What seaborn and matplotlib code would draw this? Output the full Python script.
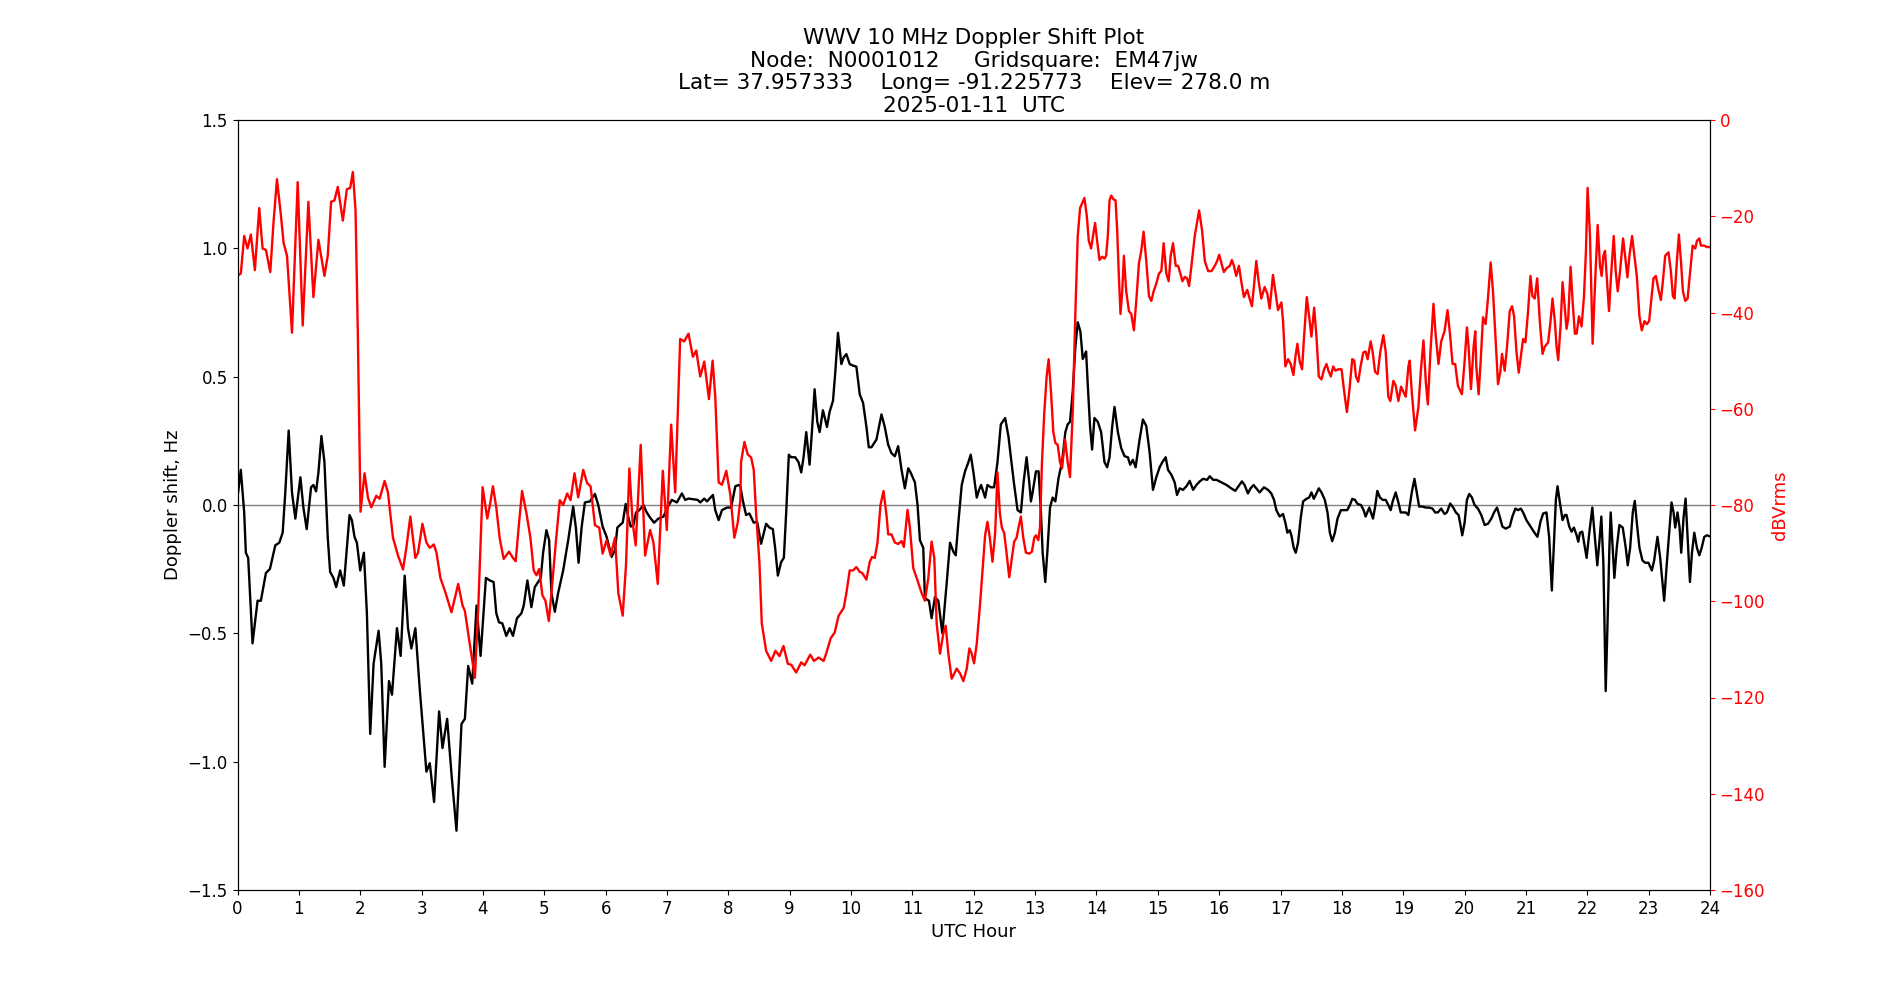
import matplotlib
matplotlib.use("Agg")
import matplotlib.pyplot as plt
import seaborn as sns
import numpy as np

# ---------------- data ----------------
doppler_hours = [
    0.000, 0.054, 0.109, 0.136, 0.174, 0.245, 0.327, 0.381, 0.463, 0.529, 0.616, 0.681, 0.736, 0.779, 0.834, 0.888,
    0.943, 1.025, 1.074, 1.128, 1.199, 1.237, 1.281, 1.319, 1.368, 1.417, 1.471, 1.510, 1.564, 1.608, 1.673, 1.733,
    1.826, 1.864, 1.907, 1.946, 2.000, 2.060, 2.109, 2.163, 2.218, 2.300, 2.343, 2.398, 2.469, 2.518, 2.599, 2.659,
    2.725, 2.779, 2.834, 2.899, 2.970, 3.079, 3.134, 3.204, 3.286, 3.341, 3.417, 3.488, 3.569, 3.651, 3.706, 3.760,
    3.826, 3.896, 3.962, 4.049, 4.114,
    4.174, 4.218, 4.262, 4.316, 4.381, 4.436, 4.490, 4.556, 4.627, 4.665, 4.725, 4.790, 4.845, 4.899, 4.943, 4.981,
    5.035, 5.079, 5.117, 5.172, 5.226, 5.308, 5.390, 5.471, 5.515, 5.559, 5.608, 5.662, 5.744, 5.826, 5.880, 5.951,
    6.016, 6.098, 6.153, 6.191, 6.234, 6.278, 6.327, 6.371, 6.409, 6.452, 6.496, 6.550, 6.616, 6.670, 6.725, 6.790,
    6.861, 6.943, 7.008, 7.079, 7.161, 7.243, 7.297, 7.351, 7.433, 7.499, 7.542, 7.608, 7.651, 7.695, 7.749, 7.787,
    7.842, 7.896, 7.978, 8.044, 8.114, 8.169, 8.196,
    8.234, 8.289, 8.343, 8.414, 8.469, 8.534, 8.616, 8.670, 8.725, 8.763, 8.807, 8.861, 8.905, 8.943, 8.986, 9.025,
    9.090, 9.144, 9.188, 9.226, 9.270, 9.324, 9.362, 9.406, 9.450, 9.488, 9.542, 9.608, 9.651, 9.706, 9.744, 9.787,
    9.842, 9.880, 9.924, 9.978, 10.033, 10.087, 10.142, 10.196, 10.251, 10.289, 10.333, 10.414, 10.496, 10.550,
    10.605, 10.659, 10.714, 10.768, 10.823, 10.877, 10.932, 10.970, 11.041, 11.084, 11.123, 11.177, 11.204, 11.270,
    11.313, 11.368, 11.422, 11.488, 11.559, 11.613, 11.668, 11.706, 11.749, 11.804, 11.858, 11.913, 11.951, 11.995,
    12.049, 12.087, 12.120, 12.185,
    12.223, 12.278, 12.332, 12.387, 12.441, 12.512, 12.567, 12.605, 12.659, 12.714, 12.768, 12.812, 12.861, 12.905,
    12.932, 12.959, 13.014, 13.057, 13.095, 13.123, 13.166, 13.204, 13.243, 13.286, 13.330, 13.384, 13.439, 13.493,
    13.531, 13.569, 13.613, 13.657, 13.695, 13.738, 13.777, 13.804, 13.831, 13.858, 13.896, 13.929, 13.967, 14.022,
    14.076, 14.131, 14.174, 14.213, 14.256, 14.294, 14.349, 14.403, 14.458, 14.512, 14.550, 14.594, 14.638, 14.703,
    14.757, 14.812, 14.866, 14.921, 14.975, 15.030, 15.074, 15.128, 15.166, 15.221, 15.275, 15.313, 15.357, 15.411,
    15.466, 15.520, 15.575, 15.629, 15.684, 15.738, 15.804, 15.847, 15.902, 15.956, 16.038, 16.120, 16.174,
    16.196, 16.262, 16.316, 16.371, 16.414, 16.469, 16.512, 16.561, 16.605, 16.659, 16.730, 16.796, 16.850, 16.894,
    16.932, 16.986, 17.041, 17.079, 17.112, 17.150, 17.177, 17.215, 17.248, 17.286, 17.330, 17.368, 17.422, 17.466,
    17.504, 17.542, 17.586, 17.624, 17.668, 17.722, 17.766, 17.804, 17.842, 17.886, 17.929, 17.984, 18.038, 18.087,
    18.131, 18.169, 18.213, 18.256, 18.311, 18.354, 18.387, 18.414, 18.447, 18.474, 18.507, 18.540, 18.578, 18.621,
    18.665, 18.714, 18.757, 18.796, 18.828, 18.877, 18.921, 18.959, 19.003, 19.041, 19.084, 19.139, 19.183, 19.221,
    19.259, 19.313, 19.368, 19.422, 19.477, 19.520, 19.564, 19.619, 19.673, 19.711, 19.766, 19.815, 19.858, 19.902,
    19.929, 19.962, 20.000, 20.038, 20.076, 20.120, 20.163,
    20.218, 20.272, 20.327, 20.381, 20.436, 20.480, 20.529, 20.572, 20.616, 20.670, 20.736, 20.779, 20.828, 20.872,
    20.916, 20.954, 21.008, 21.074, 21.128, 21.188, 21.237, 21.281, 21.335, 21.379, 21.422, 21.460, 21.488, 21.515,
    21.553, 21.597, 21.635, 21.662, 21.706, 21.744, 21.782, 21.826, 21.853, 21.880, 21.918, 21.962, 21.989, 22.033,
    22.082, 22.125, 22.163, 22.196, 22.229, 22.262, 22.300, 22.332, 22.360, 22.381, 22.414, 22.441, 22.480, 22.523,
    22.578, 22.627, 22.659, 22.698, 22.741, 22.774, 22.807, 22.850, 22.899, 22.943, 22.997, 23.052, 23.090, 23.144,
    23.188, 23.226, 23.253, 23.297, 23.341, 23.373, 23.406, 23.433, 23.471, 23.504, 23.531, 23.569, 23.602, 23.640,
    23.673, 23.706, 23.744, 23.787, 23.826, 23.864, 23.907, 23.951, 23.995,
]
doppler_hz = [
    0.030, 0.137, -0.029, -0.186, -0.206, -0.539, -0.373, -0.373, -0.265, -0.249, -0.157, -0.147, -0.108, 0.049, 0.290,
    0.049, -0.053, 0.108, -0.010, -0.094, 0.069, 0.078, 0.053, 0.127, 0.269, 0.167, -0.127, -0.261, -0.284, -0.320,
    -0.255, -0.314, -0.039, -0.059, -0.124, -0.147, -0.255, -0.186, -0.422, -0.892, -0.618, -0.490, -0.618, -1.020,
    -0.686, -0.739, -0.480, -0.588, -0.275, -0.480, -0.559, -0.480, -0.716, -1.039, -1.006, -1.157, -0.804, -0.947,
    -0.833, -1.049, -1.269, -0.853, -0.833, -0.627, -0.696, -0.392, -0.588, -0.284, -0.294,
    -0.300, -0.422, -0.457, -0.461, -0.510, -0.480, -0.510, -0.441, -0.422, -0.392, -0.294, -0.398, -0.320, -0.300,
    -0.284, -0.186, -0.098, -0.137, -0.343, -0.416, -0.343, -0.255, -0.137, -0.006, -0.088, -0.225, -0.088, 0.010,
    0.014, 0.043, 0.000, -0.084, -0.124, -0.202, -0.176, -0.088, -0.078, -0.069, 0.004, -0.049, -0.084, -0.078,
    -0.029, -0.020, 0.000, -0.029, -0.049, -0.069, -0.053, -0.045, -0.010, 0.020, 0.010, 0.045, 0.020, 0.025, 0.022,
    0.020, 0.010, 0.025, 0.014, 0.025, 0.039, -0.020, -0.059, -0.020, -0.010, -0.010, 0.073, 0.078, 0.073,
    0.020, -0.039, -0.033, -0.069, -0.065, -0.151, -0.073, -0.088, -0.094, -0.167, -0.275, -0.222, -0.206, -0.029,
    0.196, 0.186, 0.186, 0.167, 0.127, 0.186, 0.284, 0.157, 0.284, 0.451, 0.324, 0.284, 0.369, 0.304, 0.363, 0.406,
    0.520, 0.671, 0.549, 0.575, 0.588, 0.549, 0.543, 0.539, 0.431, 0.398, 0.304, 0.225, 0.225, 0.255, 0.353, 0.304,
    0.235, 0.202, 0.190, 0.229, 0.137, 0.065, 0.143, 0.127, 0.088, 0.000, -0.137, -0.167, -0.363, -0.373, -0.441,
    -0.359, -0.373, -0.500, -0.304, -0.147, -0.182, -0.196, -0.069, 0.078, 0.131, 0.167, 0.196, 0.127, 0.029, 0.059,
    0.078, 0.029,
    0.078, 0.069, 0.069, 0.167, 0.314, 0.339, 0.265, 0.186, 0.078, -0.020, -0.029, 0.088, 0.186, 0.088, 0.014, 0.049,
    0.131, 0.131, -0.029, -0.186, -0.300, -0.167, -0.010, 0.029, 0.014, 0.108, 0.167, 0.284, 0.314, 0.324, 0.441,
    0.618, 0.712, 0.676, 0.569, 0.582, 0.598, 0.471, 0.304, 0.216, 0.339, 0.324, 0.284, 0.167, 0.147, 0.186, 0.304,
    0.382, 0.284, 0.222, 0.190, 0.186, 0.157, 0.176, 0.147, 0.255, 0.333, 0.308, 0.206, 0.059, 0.108, 0.147, 0.167,
    0.186, 0.137, 0.118, 0.088, 0.039, 0.065, 0.059, 0.073, 0.094, 0.059, 0.078, 0.092, 0.102, 0.098, 0.112, 0.098,
    0.098, 0.088, 0.078, 0.069,
    0.065, 0.055, 0.073, 0.092, 0.078, 0.045, 0.065, 0.078, 0.065, 0.049, 0.069, 0.059, 0.045, 0.020, -0.020, -0.045,
    -0.035, -0.069, -0.108, -0.098, -0.118, -0.167, -0.186, -0.147, -0.049, 0.014, 0.024, 0.029, 0.049, 0.024, 0.045,
    0.065, 0.049, 0.020, -0.029, -0.108, -0.141, -0.108, -0.053, -0.020, -0.020, -0.020, 0.000, 0.024, 0.020, 0.004,
    0.000, -0.020, -0.045, -0.029, -0.010, -0.029, -0.053, -0.010, 0.055, 0.029, 0.020, 0.020, 0.000, -0.020, 0.014,
    0.049, 0.010, -0.029, -0.029, -0.029, -0.039, 0.049, 0.102, 0.049, -0.006, -0.006, -0.010, -0.010, -0.014, -0.029,
    -0.029, -0.014, -0.035, -0.029, 0.006, -0.010, -0.029, -0.039, -0.073, -0.118, -0.069, 0.020, 0.043, 0.029, 0.000,
    -0.014, -0.039, -0.078, -0.073, -0.053, -0.029, -0.010, -0.045, -0.084, -0.092, -0.084, -0.045, -0.014, -0.020,
    -0.014, -0.029, -0.059, -0.084, -0.104, -0.124, -0.065, -0.033, -0.029, -0.127, -0.333, -0.127, 0.020, 0.073,
    0.010, -0.059, -0.039, -0.039, -0.084, -0.104, -0.088, -0.118, -0.143, -0.108, -0.104, -0.167, -0.206, -0.108,
    -0.010, -0.127, -0.235, -0.147, -0.045, -0.225, -0.725, -0.441, -0.167, -0.029, -0.167, -0.284, -0.167, -0.078,
    -0.088, -0.167, -0.235, -0.167, -0.029, 0.016, -0.069, -0.167, -0.216, -0.225, -0.225, -0.255, -0.216, -0.124,
    -0.206, -0.304, -0.373, -0.225, -0.088, 0.010, -0.029, -0.088, -0.029, -0.088, -0.186, -0.049, 0.025, -0.147,
    -0.300, -0.186, -0.108, -0.167, -0.196, -0.167, -0.124, -0.118, -0.122,
]

signal_hours = [
    0.000, 0.054, 0.109, 0.163, 0.218, 0.283, 0.354, 0.409, 0.463, 0.534, 0.589, 0.643, 0.708, 0.752, 0.807, 0.888,
    0.981, 1.063, 1.155, 1.237, 1.319, 1.417, 1.471, 1.526, 1.580, 1.635, 1.717, 1.782, 1.837, 1.880, 1.924, 1.962,
    2.005, 2.071, 2.125, 2.180, 2.262, 2.316, 2.398, 2.452, 2.534, 2.616, 2.698, 2.752, 2.817, 2.899, 2.943, 3.014,
    3.079, 3.134, 3.199, 3.243, 3.308, 3.379, 3.488, 3.597, 3.668, 3.706, 3.760, 3.869, 3.924, 3.995, 4.071, 4.114,
    4.163, 4.218, 4.272, 4.338, 4.425, 4.490, 4.534, 4.589, 4.638, 4.708, 4.774, 4.828, 4.872, 4.916, 4.970, 5.019,
    5.074, 5.117, 5.188, 5.253, 5.308, 5.373, 5.428, 5.493, 5.553, 5.635, 5.700, 5.755, 5.826, 5.896, 5.951, 6.016,
    6.082, 6.153, 6.207, 6.278, 6.332, 6.387, 6.441, 6.490, 6.572, 6.643, 6.725, 6.779, 6.850, 6.932, 6.997, 7.068,
    7.134, 7.215, 7.281, 7.351, 7.422, 7.477, 7.542, 7.608, 7.684, 7.744, 7.787, 7.842, 7.896, 7.967, 8.033, 8.098,
    8.153, 8.196,
    8.207, 8.262, 8.316, 8.371, 8.414, 8.452, 8.507, 8.545, 8.616, 8.698, 8.768, 8.834, 8.899, 8.970, 9.025, 9.106,
    9.188, 9.243, 9.335, 9.395, 9.472, 9.553, 9.597, 9.668, 9.733, 9.798, 9.880, 9.924, 9.978, 10.033, 10.087,
    10.142, 10.180, 10.251, 10.305, 10.343, 10.387, 10.431, 10.480, 10.529, 10.578, 10.605, 10.659, 10.714, 10.768,
    10.823, 10.861, 10.921, 10.959, 11.014, 11.084, 11.150, 11.204, 11.259, 11.313, 11.357, 11.395, 11.450, 11.504,
    11.542, 11.586, 11.640, 11.722, 11.777, 11.831, 11.886, 11.929, 11.967, 12.005, 12.049, 12.104, 12.158, 12.185,
    12.223, 12.262, 12.305, 12.349, 12.387, 12.425, 12.458, 12.496, 12.534, 12.578, 12.621, 12.659, 12.698, 12.730,
    12.768, 12.807, 12.850, 12.905, 12.948, 12.986, 13.014, 13.052, 13.079, 13.112, 13.150, 13.188, 13.221, 13.259,
    13.297, 13.330, 13.368, 13.406, 13.439, 13.488, 13.531, 13.569, 13.613, 13.657, 13.695, 13.733, 13.766, 13.804,
    13.842, 13.875, 13.913, 13.951, 13.978, 14.011, 14.049, 14.093, 14.131, 14.158, 14.185, 14.213, 14.240, 14.278,
    14.311, 14.338, 14.365, 14.392, 14.420, 14.447, 14.485, 14.529, 14.567, 14.610, 14.649, 14.692, 14.730, 14.768,
    14.812, 14.856, 14.894, 14.932, 14.975, 15.019, 15.057, 15.095, 15.139, 15.177, 15.210, 15.248, 15.292, 15.330,
    15.368, 15.401, 15.439, 15.477, 15.510, 15.548, 15.602, 15.673, 15.722, 15.766, 15.820, 15.875, 15.929, 15.967,
    16.000, 16.038, 16.076, 16.120, 16.174,
    16.207, 16.240, 16.278, 16.322, 16.360, 16.403, 16.458, 16.496, 16.534, 16.567, 16.605, 16.643, 16.687, 16.741,
    16.785, 16.823, 16.877, 16.916, 16.959, 17.014, 17.041, 17.079, 17.123, 17.166, 17.210, 17.243, 17.275, 17.313,
    17.351, 17.384, 17.428, 17.466, 17.504, 17.548, 17.586, 17.624, 17.668, 17.711, 17.749, 17.787, 17.820, 17.858,
    17.896, 17.940, 17.995, 18.038, 18.082, 18.120, 18.169, 18.202, 18.229, 18.267, 18.305, 18.349, 18.387, 18.420,
    18.469, 18.501, 18.540, 18.583, 18.627, 18.676, 18.714, 18.757, 18.790, 18.839, 18.877, 18.921, 18.965, 19.003,
    19.041, 19.084, 19.106, 19.139, 19.193, 19.248, 19.286, 19.330, 19.368, 19.401, 19.444, 19.493, 19.531, 19.575,
    19.619, 19.673, 19.722, 19.766, 19.804, 19.847, 19.891, 19.956, 20.000, 20.038, 20.065, 20.104, 20.147, 20.174,
    20.191, 20.229, 20.262, 20.300, 20.343, 20.381, 20.425, 20.463, 20.507, 20.545, 20.583, 20.610, 20.654, 20.692,
    20.736, 20.774, 20.807, 20.845, 20.883, 20.916, 20.954, 20.992, 21.035, 21.074, 21.106, 21.144, 21.183, 21.226,
    21.270, 21.308, 21.362, 21.401, 21.433, 21.471, 21.499, 21.526, 21.564, 21.597, 21.624, 21.662, 21.689, 21.728,
    21.760, 21.798, 21.826, 21.864, 21.907, 21.946, 21.978, 22.005, 22.044, 22.087, 22.125, 22.169, 22.207, 22.234,
    22.262, 22.289, 22.316, 22.354, 22.387, 22.431, 22.463, 22.496, 22.534, 22.583, 22.616, 22.654, 22.687, 22.730,
    22.768, 22.807, 22.850, 22.888, 22.932, 22.970, 23.008, 23.041, 23.079, 23.117, 23.161, 23.199, 23.232, 23.270,
    23.324, 23.362, 23.395, 23.422, 23.460, 23.493, 23.526, 23.559, 23.597, 23.635, 23.678, 23.717, 23.760, 23.787,
    23.826, 23.853, 23.907, 23.946, 23.995,
]
signal_dbv = [
    -32.4, -31.9, -24.1, -26.7, -23.8, -31.2, -18.3, -26.7, -27.0, -31.6, -20.9, -12.3, -19.9, -25.6, -28.2, -44.2,
    -12.9, -42.7, -17.0, -36.8, -24.9, -32.4, -28.2, -17.0, -16.7, -13.9, -20.9, -14.4, -14.1, -10.8, -18.8, -45.0,
    -81.4, -73.4, -78.4, -80.5, -78.1, -78.7, -75.0, -77.4, -86.8, -90.5, -93.4, -88.9, -82.4, -91.0, -89.9, -83.9,
    -87.8, -88.9, -88.2, -89.9, -95.2, -97.8, -102.3, -96.4, -100.9, -102.0, -106.7, -115.9, -101.4, -76.3, -82.8,
    -80.0,
    -76.1, -80.5, -86.8, -91.2, -89.7, -91.0, -91.7, -83.7, -77.1, -81.6, -86.8, -93.6, -94.6, -93.3, -98.8, -99.9,
    -104.1, -98.3, -87.8, -79.0, -80.0, -77.6, -79.0, -73.4, -78.4, -72.7, -75.5, -76.1, -84.2, -84.7, -90.1, -87.3,
    -90.5, -86.8, -98.3, -103.0, -92.5, -72.4, -83.7, -88.4, -67.5, -90.5, -85.2, -87.8, -96.4, -72.9, -85.2, -63.3,
    -77.4, -45.5, -46.0, -44.4, -49.2, -47.9, -53.3, -50.2, -58.0, -50.0, -57.5, -75.3, -75.8, -72.9, -77.9, -86.8,
    -83.7, -79.0,
    -71.1, -66.9, -69.5, -70.1, -72.7, -81.6, -92.0, -104.6, -110.3, -112.4, -110.3, -111.4, -109.3, -113.0, -113.2,
    -114.8, -112.7, -113.3, -111.1, -112.4, -111.7, -112.4, -110.8, -107.7, -106.5, -103.0, -101.4, -98.3, -93.6,
    -93.6, -92.9, -93.9, -94.1, -95.5, -91.8, -90.8, -91.0, -87.8, -80.0, -77.1, -82.1, -86.1, -86.1, -87.8, -88.1,
    -87.5, -88.7, -81.0, -84.7, -93.1, -95.7, -98.3, -99.9, -95.2, -87.6, -91.0, -104.6, -110.9, -106.7, -105.1,
    -110.9, -116.1, -114.0, -115.0, -116.6, -114.0, -109.8, -110.9, -112.9, -108.8, -100.4, -91.0, -86.3,
    -83.5, -86.8, -91.8, -85.8, -73.2, -81.6, -84.7, -85.8, -89.9, -95.0, -91.0, -87.6, -86.8, -84.7, -82.4, -86.8,
    -89.9, -90.1, -89.7, -86.8, -86.3, -87.3, -84.7, -71.1, -60.7, -53.3, -49.7, -56.5, -64.8, -67.1, -67.5, -71.1,
    -72.4, -66.4, -71.1, -74.2, -60.7, -39.7, -24.1, -18.3, -17.3, -16.2, -19.9, -25.1, -26.7, -23.5, -21.4, -25.1,
    -29.1, -28.4, -28.8, -28.2, -24.1, -16.7, -15.7, -16.5, -16.7, -23.0, -32.4, -40.3, -35.6, -28.2, -35.6, -39.7,
    -40.3, -43.7, -37.6, -29.8, -27.2, -23.2, -29.3, -36.6, -37.6, -35.6, -34.0, -31.9, -31.4, -25.6, -31.9, -33.5,
    -28.2, -25.6, -30.3, -30.3, -31.9, -33.5, -32.6, -32.9, -34.5, -30.3, -24.1, -18.8, -23.0, -29.3, -31.4, -31.4,
    -30.3, -29.3, -28.0, -29.8, -31.6, -30.8, -30.3,
    -29.1, -30.3, -32.4, -30.3, -33.5, -36.8, -35.3, -37.1, -38.7, -34.5, -29.3, -33.5, -37.1, -34.7, -36.1, -39.2,
    -32.2, -35.6, -39.5, -37.9, -41.8, -51.2, -49.7, -50.7, -53.0, -49.2, -46.5, -50.2, -51.8, -45.0, -36.8, -40.8,
    -45.0, -39.0, -45.0, -53.3, -53.9, -51.8, -50.7, -52.3, -53.3, -51.2, -52.1, -51.8, -51.8, -56.5, -60.7, -56.5,
    -49.7, -50.0, -53.3, -54.4, -51.2, -48.3, -48.1, -49.7, -46.0, -48.1, -52.3, -52.8, -48.1, -44.7, -48.1, -57.5,
    -58.4, -54.2, -55.2, -58.4, -55.4, -56.5, -57.5, -51.2, -50.0, -56.5, -64.5, -59.6, -52.3, -45.8, -54.4, -59.1,
    -48.1, -38.2, -45.0, -50.7, -46.0, -43.9, -39.5, -45.0, -50.7, -50.7, -55.2, -57.0, -50.2, -43.1, -47.1, -55.9,
    -47.1, -43.9,
    -51.2, -57.0, -50.2, -41.0, -42.4, -37.1, -29.6, -35.6, -46.0, -54.9, -52.3, -48.6, -52.1, -47.1, -39.7, -38.7,
    -40.8, -48.1, -52.5, -49.2, -45.5, -46.2, -39.7, -32.4, -36.6, -37.1, -32.9, -41.8, -48.6, -47.1, -46.2, -41.8,
    -37.1, -41.8, -47.1, -49.9, -42.9, -33.7, -37.6, -43.4, -41.3, -30.5, -37.6, -44.4, -44.4, -40.8, -42.9, -36.6,
    -27.2, -14.1, -24.1, -46.5, -34.5, -21.8, -30.3, -32.4, -28.2, -27.2, -32.4, -39.7, -32.4, -24.1, -31.4, -35.6,
    -31.4, -24.6, -28.2, -32.7, -28.2, -24.1, -28.2, -32.4, -40.8, -43.7, -41.8, -42.4, -41.8, -37.6, -32.9, -32.4,
    -35.3, -37.4, -33.5, -28.2, -27.5, -31.4, -36.6, -37.1, -29.3, -23.8, -29.3, -35.6, -37.6, -37.1, -31.4, -26.1,
    -26.7, -25.1, -24.6, -26.1, -26.1, -26.4, -26.4,
]

hour_ticks = list(range(0, 25))
title_lines = [
    "WWV 10 MHz Doppler Shift Plot",
    "Node:  N0001012     Gridsquare:  EM47jw",
    "Lat= 37.957333    Long= -91.225773    Elev= 278.0 m",
    "2025-01-11  UTC",
]

# ---------------- plot ----------------
plt.rcParams["font.family"] = ["DejaVu Sans"]
plt.rcParams["font.size"] = 12

fig, ax = plt.subplots(figsize=(19, 10), dpi=100)

ax.axhline(0, color="grey", linewidth=1.0, zorder=1)
sns.lineplot(x=np.array(doppler_hours), y=np.array(doppler_hz), ax=ax, color="black",
             linewidth=1.7, sort=False, estimator=None, zorder=2)
ax.set_xlim(0, 24)
ax.set_ylim(-1.5, 1.5)
ax.set_xticks(hour_ticks)
ax.set_xlabel("UTC Hour", fontsize=13)
ax.set_ylabel("Doppler shift, Hz", fontsize=13)
ax.set_title("\n".join(title_lines), fontsize=15.6, linespacing=1.16)

ax2 = ax.twinx()
sns.lineplot(x=np.array(signal_hours), y=np.array(signal_dbv), ax=ax2, color="red",
             linewidth=1.7, sort=False, estimator=None)
ax2.set_ylim(-160, 0)
ax2.set_ylabel("dBVrms", color="red", fontsize=13)
ax2.tick_params(axis="y", colors="red")
ax2.spines["right"].set_color("black")
ax2.set_xlim(0, 24)

fig.savefig("out.png", dpi=100)
